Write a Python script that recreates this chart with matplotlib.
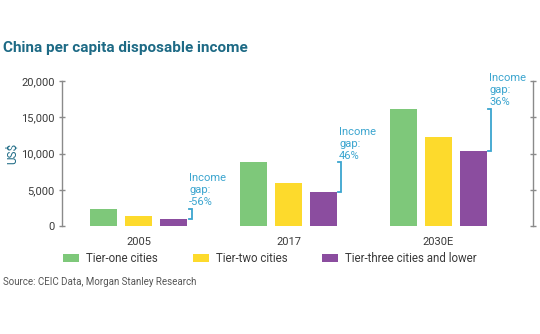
import numpy as np
import matplotlib.pyplot as plt

plt.rcParams['font.family'] = ['Roboto', 'DejaVu Sans']

years = ['2005', '2017', '2030E']
tier_names = ['Tier-one cities', 'Tier-two cities', 'Tier-three cities and lower']
tier_one = [2380, 8800, 16150]
tier_two = [1380, 6000, 12300]
tier_three = [980, 4650, 10350]
gap_labels = ['-56%', '46%', '36%']

colors = ['#7ec87a', '#fdda2c', '#8b4d9f']
teal = '#1d6a85'
light_blue = '#3ba5cf'
axis_gray = '#8a8a8a'

fig = plt.figure(figsize=(5.4, 3.34), dpi=100)
ax = fig.add_axes([0.115, 0.323, 0.872, 0.434])

x = np.arange(len(years))
step = 0.233
width = 0.18
series = [tier_one, tier_two, tier_three]
for i, (vals, c, name) in enumerate(zip(series, colors, tier_names)):
    ax.bar(x + (i - 1) * step, vals, width=width, color=c, label=name)

# brackets showing the gap between tier one and tier three
for xi, lo, hi, lab in zip(x, tier_three, tier_one, gap_labels):
    bx = xi + step + width / 2 + 0.03
    ax.plot([bx - 0.02, bx, bx, bx - 0.02], [lo, lo, hi, hi],
            color=light_blue, lw=1.3, solid_joinstyle='miter')
    ax.text(bx - 0.015, hi + 250, 'Income\ngap:\n' + lab, color=light_blue,
            fontsize=8, ha='left', va='bottom', linespacing=1.25)

ax.set_xlim(-0.51, 2.63)
ax.set_ylim(0, 20000)
ax.set_yticks([0, 5000, 10000, 15000, 20000])
ax.set_yticklabels(['0', '5,000', '10,000', '15,000', '20,000'])
ax.set_xticks(x)
ax.set_xticklabels(years)

for s in ['top', 'bottom']:
    ax.spines[s].set_visible(False)
for s in ['left', 'right']:
    ax.spines[s].set_color(axis_gray)
    ax.spines[s].set_linewidth(1.0)
ax.tick_params(axis='y', which='both', direction='inout', length=5, width=1,
               color=axis_gray, labelsize=8, labelcolor='#3a3a3a', right=True, pad=3)
ax.tick_params(axis='x', length=0, labelsize=8, labelcolor='#3a3a3a', pad=8)

fig.text(0.024, 0.54, 'US$', color=teal, fontsize=8.5, rotation=90,
         ha='center', va='center')
fig.text(0.006, 0.855, 'China per capita disposable income', color=teal,
         fontsize=11, fontweight='semibold', ha='left', va='center')

fig.legend(loc='center', bbox_to_anchor=(0.5, 0.225), ncol=3, frameon=False,
           fontsize=8.3, handlelength=1.4, handleheight=0.7, columnspacing=3.0,
           handletextpad=0.6, labelcolor='#3a3a3a')

fig.text(0.006, 0.155, 'Source: CEIC Data, Morgan Stanley Research', color='#555555',
         fontsize=7, ha='left', va='center')

fig.savefig('out.png', dpi=100, facecolor='white')
